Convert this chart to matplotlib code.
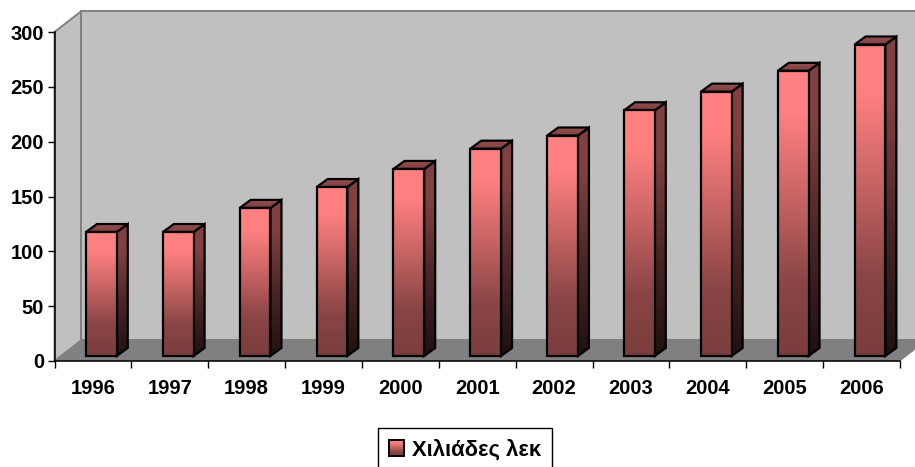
import numpy as np
import matplotlib
matplotlib.use('Agg')
import matplotlib.pyplot as plt
from matplotlib.colors import LinearSegmentedColormap
from matplotlib.legend_handler import HandlerBase
from matplotlib.patches import Patch, Polygon, Rectangle

years = ['1996', '1997', '1998', '1999', '2000', '2001', '2002', '2003', '2004', '2005', '2006']
values = [113, 113, 135, 154, 170.5, 189, 201, 224, 241, 260, 284]
yticks = [0, 50, 100, 150, 200, 250, 300]
legend_label = 'Χιλιάδες λεκ'

plt.rcParams['font.family'] = ['Liberation Sans', 'DejaVu Sans']
plt.rcParams['font.weight'] = 'bold'

FRONT = LinearSegmentedColormap.from_list('front', [(0, '#7a3d3d'), (0.25, '#8a4545'), (0.6, '#d06868'), (0.85, '#ff8080'), (1, '#ff8080')])
SIDE = LinearSegmentedColormap.from_list('side', [(0, '#201010'), (0.4, '#4a2525'), (0.8, '#804040'), (1, '#804040')])
TOP = LinearSegmentedColormap.from_list('top', ['#7a3f3f', '#9a5252'])

# depth of the fake 3d box, x in category units, y in value units
WALL_DX, WALL_DY = 0.351, 19.1
BAR_X, BAR_Y = 0.11, 4.6
BAR_DX, BAR_DY = 0.143, 7.3
BAR_W = 0.40


def gradient_face(ax, pts, cmap, z):
	pts = np.array(pts)
	poly = Polygon(pts, closed=True, facecolor='none', edgecolor='black', linewidth=1.6, zorder=z + 0.1, clip_on=False)
	ax.add_patch(poly)
	grad = np.linspace(1, 0, 128).reshape(-1, 1)
	im = ax.imshow(grad, cmap=cmap, vmin=0, vmax=1, aspect='auto', zorder=z,
		extent=(pts[:, 0].min(), pts[:, 0].max(), pts[:, 1].min(), pts[:, 1].max()))
	im.set_clip_path(poly)


class GradientHandler(HandlerBase):
	def create_artists(self, legend, orig_handle, xdescent, ydescent, width, height, fontsize, trans):
		artists = []
		n = 16
		for i in range(n):
			c = FRONT((i + 0.5) / n)
			artists.append(Rectangle((xdescent, ydescent + height * i / n), width, height / n + 0.2,
				facecolor=c, edgecolor='none', transform=trans))
		artists.append(Rectangle((xdescent, ydescent), width, height, facecolor='none',
			edgecolor='black', linewidth=1.4, transform=trans))
		return artists


fig = plt.figure(figsize=(9.15, 4.67), dpi=100)
ax = fig.add_axes([54.5 / 915, (467 - 361) / 467, 845.5 / 915, 329 / 467])
ax.patch.set_visible(False)

n = len(years)
ymax = yticks[-1]
back_l = WALL_DX
back_r = n + WALL_DX

# walls and floor
ax.add_patch(Polygon([(0, 0), (back_l, WALL_DY), (back_l, ymax + WALL_DY), (0, ymax)], closed=True,
	facecolor='#c0c0c0', edgecolor='#808080', linewidth=1.4, clip_on=False, zorder=1))
ax.add_patch(Polygon([(back_l, WALL_DY), (back_r, WALL_DY), (back_r, ymax + WALL_DY), (back_l, ymax + WALL_DY)], closed=True,
	facecolor='#c0c0c0', edgecolor='#808080', linewidth=1.4, clip_on=False, zorder=1))
ax.add_patch(Polygon([(0, 0), (n, 0), (back_r, WALL_DY), (back_l, WALL_DY)], closed=True,
	facecolor='#808080', edgecolor='#808080', linewidth=0.5, clip_on=False, zorder=1.5))

for i, v in enumerate(values):
	left = i + 0.5 - BAR_W / 2 + BAR_X
	right = left + BAR_W
	base = BAR_Y
	top = BAR_Y + v
	z = 3 + i
	gradient_face(ax, [(right, base), (right + BAR_DX, base + BAR_DY), (right + BAR_DX, top + BAR_DY), (right, top)], SIDE, z)
	gradient_face(ax, [(left, top), (right, top), (right + BAR_DX, top + BAR_DY), (left + BAR_DX, top + BAR_DY)], TOP, z + 0.2)
	gradient_face(ax, [(left, base), (right, base), (right, top), (left, top)], FRONT, z + 0.4)

ax.set_xlim(0, n)
ax.set_ylim(0, ymax)
ax.set_yticks(yticks)
ax.set_xticks(np.arange(n + 1))
ax.set_xticklabels([])
ax.set_xticks(np.arange(n) + 0.5, labels=years, minor=True)
ax.tick_params(axis='x', which='major', length=5, width=1, color='black', direction='out')
ax.tick_params(axis='x', which='minor', length=0, pad=13, labelsize=14.5)
ax.tick_params(axis='y', length=5, width=1, pad=2.5, labelsize=14.5)
for side in ['top', 'right']:
	ax.spines[side].set_visible(False)
for side in ['left', 'bottom']:
	ax.spines[side].set_zorder(30)
	ax.spines[side].set_linewidth(1.1)

# bottom edge of the legend box falls off the picture, as in the original
leg = fig.legend([Patch()], [legend_label], handler_map={Patch: GradientHandler()},
	loc='center', bbox_to_anchor=(465 / 915, (467 - 450) / 467), fontsize=15.8,
	fancybox=False, framealpha=1, edgecolor='black', handlelength=0.7, handleheight=0.7,
	handletextpad=0.35, borderpad=0.5, borderaxespad=0)
leg.get_frame().set_linewidth(1.0)

fig.savefig('out.png', dpi=100)
